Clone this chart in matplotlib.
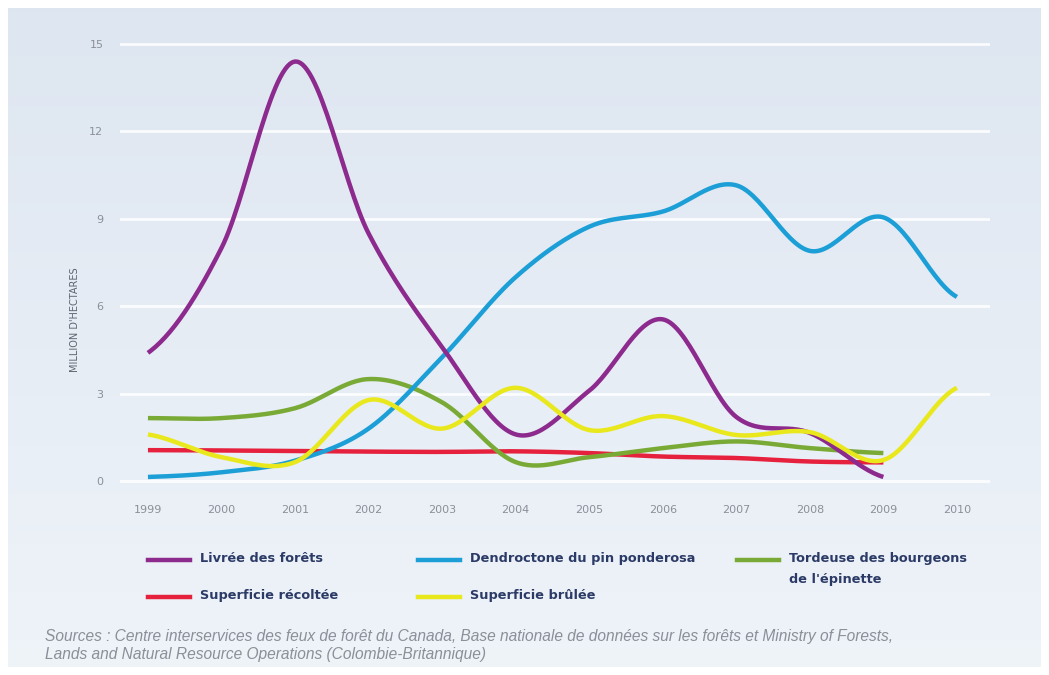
import matplotlib

matplotlib.use("Agg")
import matplotlib.pyplot as plt
import numpy as np
from matplotlib.lines import Line2D

years = [1999, 2000, 2001, 2002, 2003, 2004, 2005, 2006, 2007, 2008, 2009, 2010]

# million hectares per year
livree = [4.4, 8.0, 14.4, 8.5, 4.6, 1.6, 3.1, 5.55, 2.2, 1.65, 0.14]
dendroctone = [0.14, 0.3, 0.7, 1.8, 4.25, 7.0, 8.73, 9.25, 10.15, 7.9, 9.05, 6.32]
tordeuse = [2.16, 2.16, 2.5, 3.5, 2.7, 0.65, 0.82, 1.13, 1.36, 1.13, 0.96]
recoltee = [1.06, 1.05, 1.03, 1.01, 1.0, 1.02, 0.96, 0.84, 0.79, 0.67, 0.64]
brulee = [1.6, 0.82, 0.65, 2.78, 1.8, 3.2, 1.75, 2.23, 1.58, 1.68, 0.72, 3.2]

y_ticks = [0, 3, 6, 9, 12, 15]

series = [
    ("Superficie récoltée", recoltee, "#e5213d"),
    ("Tordeuse des bourgeons\nde l'épinette", tordeuse, "#7aaa36"),
    ("Dendroctone du pin ponderosa", dendroctone, "#1c9fd6"),
    ("Livrée des forêts", livree, "#8d2a8e"),
    ("Superficie brûlée", brulee, "#e9e81c"),
]

NAVY = "#2b3a66"
GREY = "#8b9098"


def smooth(xs, ys, steps=30):
    """Catmull-Rom curve through the points."""
    xs = np.asarray(xs, dtype=float)
    ys = np.asarray(ys, dtype=float)
    px = np.concatenate([[2 * xs[0] - xs[1]], xs, [2 * xs[-1] - xs[-2]]])
    py = np.concatenate([[ys[0]], ys, [ys[-1]]])
    t = np.linspace(0, 1, steps, endpoint=False)
    out_x, out_y = [], []
    for i in range(1, len(px) - 2):
        seg = []
        for p in (px, py):
            p0, p1, p2, p3 = p[i - 1], p[i], p[i + 1], p[i + 2]
            seg.append(0.5 * (2 * p1 + (-p0 + p2) * t
                              + (2 * p0 - 5 * p1 + 4 * p2 - p3) * t ** 2
                              + (-p0 + 3 * p1 - 3 * p2 + p3) * t ** 3))
        out_x.append(seg[0])
        out_y.append(seg[1])
    out_x.append([xs[-1]])
    out_y.append([ys[-1]])
    return np.concatenate(out_x), np.concatenate(out_y)


W, H = 1049, 675
fig = plt.figure(figsize=(W / 100, H / 100), dpi=100)
fig.patch.set_facecolor("white")

# soft blue panel behind everything
bg = fig.add_axes([8 / W, 8 / H, 1 - 16 / W, 1 - 16 / H])
grad = np.linspace(0, 1, 256)[:, None]
top = np.array([0.870, 0.902, 0.945])
bottom = np.array([0.935, 0.955, 0.975])
img = top + (bottom - top) * grad[..., None]
bg.imshow(np.repeat(img, 2, axis=1), aspect="auto", extent=[0, 1, 0, 1])
bg.axis("off")

ax = fig.add_axes([120 / W, 1 - 495.6 / H, 870 / W, (495.6 - 35.3) / H])
ax.set_facecolor("none")
ax.set_xlim(1998.62, 2010.45)
ax.set_ylim(-0.5, 15.3)

for v in y_ticks:
    ax.axhline(v, color="white", lw=2, alpha=0.85, zorder=1)

for label, values, color in series:
    sx, sy = smooth(years[:len(values)], values)
    ax.plot(sx, sy, color=color, lw=3.2, solid_capstyle="butt", zorder=3)

ax.set_yticks(y_ticks)
ax.set_xticks(years)
ax.tick_params(length=0, labelsize=8, labelcolor=GREY)
ax.tick_params(axis="y", pad=12)
ax.tick_params(axis="x", pad=7)
for s in ax.spines.values():
    s.set_visible(False)

fig.text(75 / W, 1 - 320 / H, "MILLION D'HECTARES", rotation=90, ha="center", va="center",
         fontsize=7, color="#5d6470")

# legend drawn by hand in two rows
legend_pos = {
    "Livrée des forêts": (148, 560),
    "Superficie récoltée": (148, 597),
    "Dendroctone du pin ponderosa": (418, 560),
    "Superficie brûlée": (418, 597),
    "Tordeuse des bourgeons\nde l'épinette": (737, 560),
}
for label, values, color in series:
    x0, y0 = legend_pos[label]
    fig.add_artist(Line2D([x0 / W, (x0 + 42) / W], [1 - y0 / H, 1 - y0 / H],
                          color=color, lw=3.2, transform=fig.transFigure))
    fig.text((x0 + 52) / W, 1 - (y0 - 8) / H, label, ha="left", va="top", fontsize=9.3,
             fontweight="bold", color=NAVY, linespacing=1.75)

fig.text(45 / W, 1 - 645.5 / H,
         "Sources : Centre interservices des feux de forêt du Canada, Base nationale de données sur "
         "les forêts et Ministry of Forests,\nLands and Natural Resource Operations (Colombie-Britannique)",
         ha="left", va="center", fontsize=11.2, style="italic", color="#8a8f98", linespacing=1.3,
         family=["Liberation Sans", "DejaVu Sans"])

fig.savefig("out.png", dpi=100, facecolor=fig.get_facecolor())
